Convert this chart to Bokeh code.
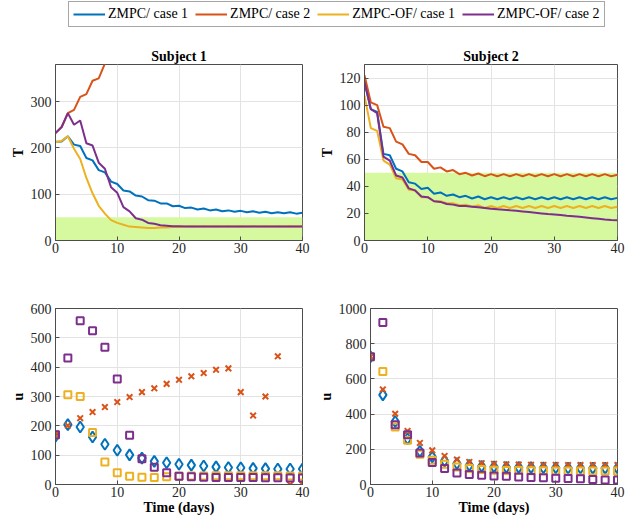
from bokeh.plotting import figure
from bokeh.layouts import column, row
from bokeh.models import Range1d, Legend, LegendItem, BoxAnnotation, FixedTicker
from bokeh.embed import file_html
from bokeh.resources import INLINE

# ---------------- data ----------------
series_names = ["ZMPC/ case 1", "ZMPC/ case 2", "ZMPC-OF/ case 1", "ZMPC-OF/ case 2"]
colors = ["#0072BD", "#D95319", "#EDB120", "#7E2F8E"]

t_days = list(range(41))          # daily samples for T
u_days = list(range(0, 41, 2))    # dosing days for u
target_T = [0, 50]                # shaded target band

# Subject 1 : T
T1_zmpc_c1 = [213, 214, 225, 207, 204, 178, 173, 152, 147, 127, 122, 108, 106, 97, 95, 87, 86, 80, 80, 74,
              75, 70, 71, 67, 69, 65, 67, 63, 65, 62, 64, 61, 63, 60, 62, 59, 61, 59, 61, 58, 60]
T1_zmpc_c2 = [232, 245, 275, 282, 310, 316, 345, 350, 382, 390]
T1_of_c1 = [212, 215, 225, 198, 176, 135, 102, 75, 58, 44, 38, 34, 30, 29, 28, 27, 27, 28, 28, 29,
            29, 30, 31, 30, 31, 30, 31, 30, 31, 30, 31, 30, 31, 30, 31, 30, 31, 30, 31, 30, 31]
T1_of_c2 = [232, 245, 275, 250, 259, 210, 205, 168, 155, 115, 103, 72, 63, 48, 45, 38, 36, 33, 32, 31,
            31, 30, 30, 30, 30, 30, 30, 30, 30, 30, 30, 30, 30, 30, 30, 30, 30, 30, 30, 30, 30]

# Subject 2 : T
T2_zmpc_c1 = [117, 97, 95, 64, 63, 53, 51, 43, 42, 38, 39, 34.5, 35.5, 33, 34, 32, 33, 31, 32.5, 30.5,
              32, 30.5, 32, 30.5, 32, 30.5, 32, 30.5, 32, 30.5, 32, 30.5, 32, 30.5, 32, 30.5, 32, 30.5, 32, 30.5, 31.5]
T2_zmpc_c2 = [122, 102, 100, 84, 83, 73, 71, 64, 63, 58, 58, 53, 54, 51, 52, 49, 50, 48, 49.5, 47.5,
              49, 47.5, 49, 47.5, 49, 47.5, 49, 47.5, 49, 47.5, 49, 47.5, 49, 47.5, 49, 47.5, 49, 47.5, 49, 47.5, 48.5]
T2_of_c1 = [107, 83, 81, 59, 56, 46, 45, 37.5, 37, 32, 32, 29, 29, 27.5, 27.5, 26, 26.5, 25, 26, 24,
            25.5, 24, 25.5, 24, 25.5, 24, 25.5, 24, 25.5, 24, 25.5, 24, 25.5, 24, 25.5, 24, 25.5, 24, 25.5, 24, 25]
T2_of_c2 = [117, 97, 94, 62, 59, 48, 46.5, 38.5, 37, 32.5, 32, 29, 28.5, 27, 26.5, 25.5, 25.5, 25, 24.5, 24,
            23.5, 23, 22.8, 22.3, 22, 21.5, 21, 20.5, 20, 19.5, 19.2, 18.8, 18.3, 18, 17.5, 17, 16.5, 16, 15.5, 15.2, 15]

# Subject 1 : u
u1_zmpc_c1 = [165, 204, 196, 162, 137, 117, 101, 90, 79, 74, 69, 66, 63, 60, 58, 57, 55, 54, 53, 53, 53]
u1_zmpc_c2 = [170, 201, 226, 247, 264, 281, 298, 315, 328, 343, 357, 369, 380, 391, 396, 315, 235, 300, 437, 0, 0]
u1_of_c1 = [170, 306, 300, 177, 77, 40, 28, 25, 24, 26, 28, 29, 29, 30, 30, 30, 30, 30, 30, 29, 29]
u1_of_c2 = [170, 431, 558, 524, 468, 360, 168, 88, 59, 40, 28, 26, 25, 24, 24, 24, 24, 23, 23, 22, 22]

# Subject 2 : u
u2_zmpc_c1 = [726, 509, 358, 260, 189, 157, 134, 119, 109, 104, 100, 98, 97, 96, 95, 95, 94, 94, 93, 93, 93]
u2_zmpc_c2 = [726, 540, 402, 304, 236, 194, 162, 142, 128, 121, 117, 115, 113, 112, 111, 111, 110, 110, 110, 110, 110]
u2_of_c1 = [726, 642, 326, 251, 172, 138, 115, 100, 91, 85, 81, 80, 79, 78, 78, 77, 77, 76, 76, 76, 76]
u2_of_c2 = [726, 921, 340, 283, 179, 125, 91, 66, 57, 53, 49, 47, 43, 40, 38, 36, 34, 32, 28, 25, 25]

x_ticks = [0, 10, 20, 30, 40]

FONT = "Liberation Serif"
AX = "#4d4d4d"
GREEN = "#d6f9a0"


def make_fig(width, height, y_end, y_ticks, title, ylabel, xlabel, mbl, mbr, mbt, mbb):
    p = figure(width=width, height=height, output_backend="svg", toolbar_location=None,
               x_range=Range1d(0, 40), y_range=Range1d(0, y_end),
               min_border_left=mbl, min_border_right=mbr, min_border_top=mbt, min_border_bottom=mbb)
    p.background_fill_color = "white"
    p.border_fill_color = "white"
    p.outline_line_color = AX
    p.outline_line_width = 1
    if title:
        p.title.text = title
        p.title.align = "center"
        p.title.text_font = FONT
        p.title.text_font_size = "14px"
        p.title.text_font_style = "bold"
        p.title.text_color = "black"
        p.title.standoff = 2
    p.xaxis.ticker = FixedTicker(ticks=x_ticks)
    p.yaxis.ticker = FixedTicker(ticks=y_ticks)
    for ax in (p.xaxis[0], p.yaxis[0]):
        ax.axis_line_color = AX
        ax.major_tick_line_color = AX
        ax.major_tick_in = 4
        ax.major_tick_out = 0
        ax.minor_tick_line_color = None
        ax.major_label_text_font = FONT
        ax.major_label_text_font_size = "14px"
        ax.major_label_text_color = "#262626"
        ax.axis_label_text_font = FONT
        ax.axis_label_text_font_size = "14px"
        ax.axis_label_text_font_style = "bold"
        ax.axis_label_text_color = "black"
    p.xaxis.major_label_standoff = 2
    p.yaxis.major_label_standoff = 4
    p.yaxis.axis_label = ylabel
    p.yaxis.axis_label_standoff = 2
    if xlabel:
        p.xaxis.axis_label = xlabel
        p.xaxis.axis_label_standoff = 0
    p.grid.grid_line_color = "#e3e3e3"
    p.grid.grid_line_width = 1
    return p


def add_lines(p, xs, ys_list):
    for ys, c in zip(ys_list, colors):
        p.line(xs[:len(ys)], ys, line_color=c, line_width=2)


def add_markers(p, xs, ys_list):
    specs = [("diamond", 11), ("x", 8), ("square", 7), ("square", 7)]
    for ys, c, (m, s) in zip(ys_list, colors, specs):
        p.scatter(xs, ys, marker=m, size=s, line_color=c, fill_color=None, line_width=2)


W_L, W_R = 315, 312
H_LEG, H_TOP, H_BOT = 30, 246, 245

p1 = make_fig(W_L, H_TOP, 380, [0, 100, 200, 300], "Subject 1", "T", None, 55, 13, 34, 36)
p1.add_layout(BoxAnnotation(bottom=target_T[0], top=target_T[1], fill_color=GREEN, fill_alpha=1,
                            line_color=None, level="underlay"))
add_lines(p1, t_days, [T1_zmpc_c1, T1_zmpc_c2, T1_of_c1, T1_of_c2])

p2 = make_fig(W_R, H_TOP, 130, [0, 20, 40, 60, 80, 100, 120], "Subject 2", "T", None, 49, 10, 34, 36)
p2.add_layout(BoxAnnotation(bottom=target_T[0], top=target_T[1], fill_color=GREEN, fill_alpha=1,
                            line_color=None, level="underlay"))
add_lines(p2, t_days, [T2_zmpc_c1, T2_zmpc_c2, T2_of_c1, T2_of_c2])

p3 = make_fig(W_L, H_BOT, 600, [0, 100, 200, 300, 400, 500, 600], None, "u", "Time (days)", 55, 13, 32, 37)
add_markers(p3, u_days, [u1_zmpc_c1, u1_zmpc_c2, u1_of_c1, u1_of_c2])

p4 = make_fig(W_R, H_BOT, 1000, [0, 200, 400, 600, 800, 1000], None, "u", "Time (days)", 49, 10, 32, 37)
add_markers(p4, u_days, [u2_zmpc_c1, u2_zmpc_c2, u2_of_c1, u2_of_c2])

# legend strip (hidden copies of the Subject 1 lines supply the legend glyphs)
lg = figure(width=W_L + W_R, height=H_LEG, output_backend="svg", toolbar_location=None,
            x_range=Range1d(0, 40), y_range=Range1d(0, 380), min_border=0)
lg.axis.visible = False
lg.grid.visible = False
lg.outline_line_color = None
items = []
for name, c, ys in zip(series_names, colors, [T1_zmpc_c1, T1_zmpc_c2, T1_of_c1, T1_of_c2]):
    r = lg.line(t_days[:len(ys)], ys, line_color=c, line_width=2, visible=False)
    items.append(LegendItem(label=name, renderers=[r]))
legend = Legend(items=items, orientation="horizontal", location=(68, 3),
                label_text_font=FONT, label_text_font_size="14px", label_text_color="black",
                glyph_width=32, glyph_height=14, label_standoff=3, spacing=7, padding=4, margin=0,
                label_height=14, border_line_color=AX, border_line_width=1, background_fill_alpha=1)
lg.add_layout(legend)

layout = column(lg, row(p1, p2), row(p3, p4))

open("out.html", "w").write(file_html(layout, INLINE))
